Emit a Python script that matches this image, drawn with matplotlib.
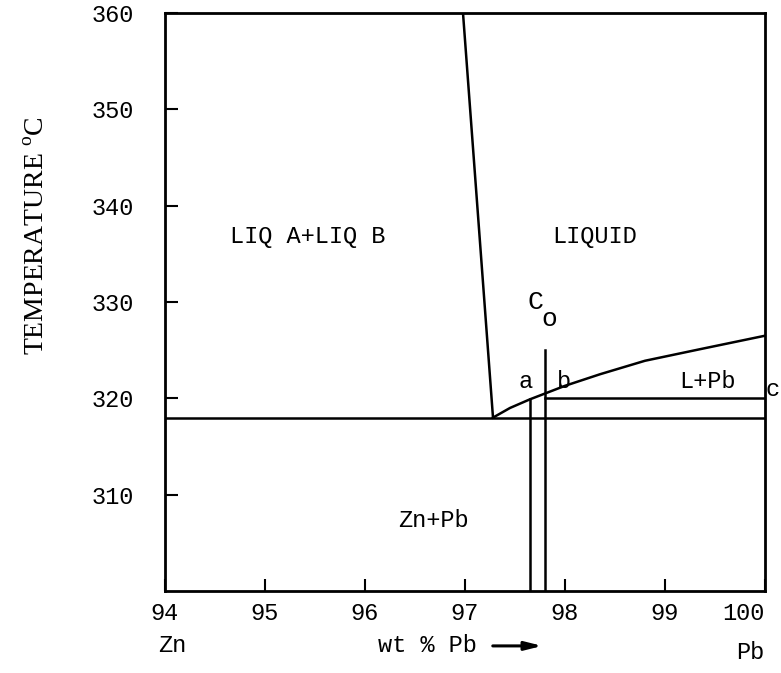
import matplotlib
matplotlib.use("Agg")
from matplotlib import pyplot as plt

plt.rcParams['mathtext.fontset'] = 'custom'
plt.rcParams['mathtext.rm'] = 'Liberation Serif'

# liquidus of Pb (from eutectic point up to pure Pb)
liquidus_x = [97.28, 97.45, 97.65, 97.80, 98.0, 98.35, 98.8, 99.35, 100.0]
liquidus_y = [318.0, 319.0, 319.9, 320.5, 321.3, 322.5, 323.9, 325.1, 326.5]

# miscibility gap boundary
gap_x = [96.98, 97.28]
gap_y = [360, 318]

eutectic_t = 318
tie_t = 320
tie_x = [97.8, 100.0]

alloy_a = 97.65
alloy_co = 97.80
alloy_a_top = 319.9
alloy_co_top = 325

xticks = [94, 95, 96, 97, 98, 99, 100]
yticks = [310, 320, 330, 340, 350, 360]

mono = "Liberation Mono"
lw = 1.8

fig = plt.figure(figsize=(7.81, 6.73), dpi=100)
ax = fig.add_axes([165 / 781, 1 - 591 / 673, 600 / 781, 578 / 673])

ax.plot(liquidus_x, liquidus_y, color="black", lw=lw)
ax.plot(gap_x, gap_y, color="black", lw=lw)
ax.plot([94, 100], [eutectic_t, eutectic_t], color="black", lw=lw)
ax.plot(tie_x, [tie_t, tie_t], color="black", lw=lw)
ax.plot([alloy_a, alloy_a], [300, alloy_a_top], color="black", lw=lw)
ax.plot([alloy_co, alloy_co], [300, alloy_co_top], color="black", lw=lw)

ax.set_xlim(94, 100)
ax.set_ylim(300, 360)
ax.set_xticks(xticks)
ax.set_yticks(yticks)
ax.set_xticklabels([str(t) for t in xticks], fontfamily=mono, fontsize=17)
ax.set_yticklabels([str(t) for t in yticks], fontfamily=mono, fontsize=17)
ax.get_xticklabels()[-1].set_ha("right")
ax.tick_params(axis="both", direction="in", length=9, width=1.5)
ax.tick_params(axis="y", pad=22)
ax.tick_params(axis="x", pad=8)
for s in ax.spines.values():
    s.set_linewidth(2)

txt = dict(fontfamily=mono, fontsize=17, ha="center", va="center")
ax.text(95.43, 336.8, "LIQ A+LIQ B", **txt)
ax.text(98.3, 336.8, "LIQUID", **txt)
ax.text(96.68, 307.3, "Zn+Pb", **txt)
ax.text(99.42, 321.7, "L+Pb", **txt)
ax.text(97.61, 321.7, "a", **txt)
ax.text(97.99, 321.7, "b", **txt)
ax.text(100.08, 320.9, "c", clip_on=False, **txt)
ax.text(97.70, 330.0, "C", fontfamily=mono, fontsize=19, ha="center", va="center")
ax.text(97.84, 328.2, "o", fontfamily=mono, fontsize=19, ha="center", va="center")

ax.text(94.07, 294.3, "Zn", clip_on=False, **txt)
ax.text(99.85, 293.6, "Pb", clip_on=False, **txt)
ax.text(96.62, 294.3, "wt % Pb", clip_on=False, **txt)
ax.annotate("", xy=(97.8, 294.3), xytext=(97.25, 294.3), annotation_clip=False,
            arrowprops=dict(arrowstyle="-|>,head_length=1.0,head_width=0.25",
                            color="black", lw=2.2))

fig.text(38 / 781, 1 - 236 / 673, r"TEMPERATURE $^\mathrm{o}$C", rotation=90,
         fontfamily="Liberation Serif", fontsize=20, ha="center", va="center")

fig.savefig("out.png", dpi=100)
